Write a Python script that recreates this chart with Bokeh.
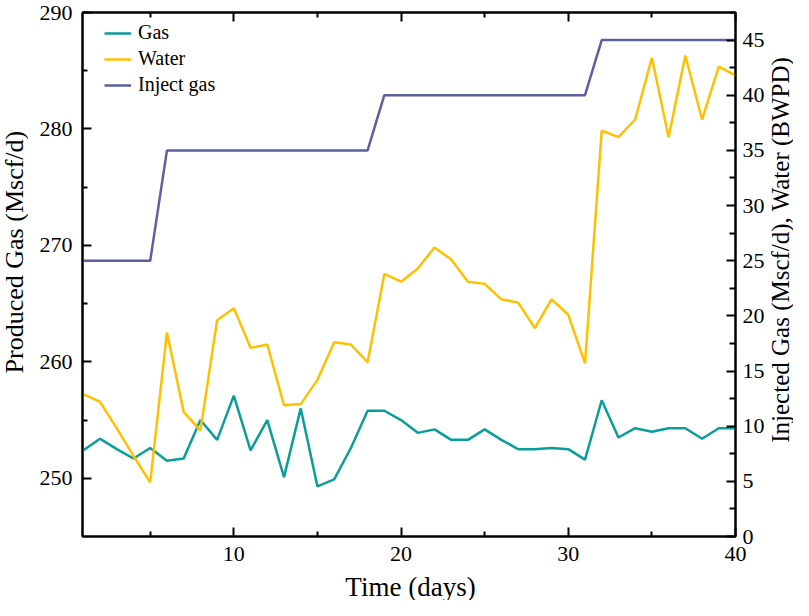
import math
from bokeh.plotting import figure
from bokeh.layouts import row, column
from bokeh.models import Range1d, LinearAxis, FixedTicker, Legend, LegendItem, CustomJSTickFormatter
from bokeh.core.properties import value
from bokeh.embed import file_html
from bokeh.resources import INLINE

days = [1, 2, 3, 4, 5, 6, 7, 8, 9, 10,
        11, 12, 13, 14, 15, 16, 17, 18, 19, 20,
        21, 22, 23, 24, 25, 26, 27, 28, 29, 30,
        31, 32, 33, 34, 35, 36, 37, 38, 39, 40]

gas = [252.4, 253.4, 252.5, 251.7, 252.6, 251.5, 251.7, 255.0, 253.3, 257.1,
       252.4, 255.0, 250.1, 256.0, 249.3, 249.9, 252.6, 255.8, 255.8, 255.0,
       253.9, 254.2, 253.3, 253.3, 254.2, 253.3, 252.5, 252.5, 252.6, 252.5,
       251.6, 256.7, 253.5, 254.3, 254.0, 254.3, 254.3, 253.4, 254.3, 254.3]

water = [12.9, 12.2, 9.8, 7.3, 4.9, 18.5, 11.3, 9.6, 19.6, 20.7,
         17.1, 17.4, 11.9, 12.0, 14.2, 17.6, 17.4, 15.8, 23.8, 23.1,
         24.3, 26.2, 25.1, 23.1, 22.9, 21.5, 21.2, 18.9, 21.5, 20.1,
         15.7, 36.8, 36.2, 37.8, 43.4, 36.2, 43.6, 37.8, 42.6, 41.8]

inject_gas = [25, 25, 25, 25, 25, 35, 35, 35, 35, 35,
              35, 35, 35, 35, 35, 35, 35, 35, 40, 40,
              40, 40, 40, 40, 40, 40, 40, 40, 40, 40,
              40, 45, 45, 45, 45, 45, 45, 45, 45, 45]

x_major = [10, 20, 30, 40]
x_minor = [5, 15, 25, 35]
left_major = [250, 260, 270, 280, 290]
left_minor = [255, 265, 275, 285]
right_major = [0, 5, 10, 15, 20, 25, 30, 35, 40, 45]
right_minor = [2.5, 7.5, 12.5, 17.5, 22.5, 27.5, 32.5, 37.5, 42.5, 47.5]

left_title = "Produced Gas (Mscf/d)"
right_title = "Injected Gas (Mscf/d),  Water (BWPD)"
x_title = "Time (days)"

FONT = "Liberation Serif"

# layout sizes (pixels)
LW, RW = 28, 26            # side strips holding the rotated axis titles
BL, BR, BT, BB = 54, 29, 12, 37
FW, FH = 656, 524           # plot frame
PW = BL + FW + BR
PH = BT + FH + BB
TOTAL_W = LW + PW + RW
BOTTOM_H = 600 - PH

p = figure(width=PW, height=PH, output_backend="svg", toolbar_location=None,
           x_range=Range1d(0.95, 40), y_range=Range1d(245, 290),
           min_border_left=BL, min_border_right=BR, min_border_top=BT, min_border_bottom=BB)
p.extra_y_ranges = {"right": Range1d(0, 47.5)}
p.xgrid.visible = False
p.ygrid.visible = False
p.outline_line_color = "black"
p.outline_line_width = 2


def style(ax, standoff=10):
    ax.axis_line_width = 2
    ax.axis_line_color = "black"
    ax.major_tick_in = 9
    ax.major_tick_out = 0
    ax.minor_tick_in = 5
    ax.minor_tick_out = 0
    ax.major_tick_line_width = 2
    ax.minor_tick_line_width = 2
    ax.major_tick_line_color = "black"
    ax.minor_tick_line_color = "black"
    ax.major_label_text_font = FONT
    ax.major_label_text_font_size = "22px"
    ax.major_label_text_color = "black"
    ax.major_label_standoff = standoff


xax = p.xaxis[0]
xax.ticker = FixedTicker(ticks=x_major, minor_ticks=x_minor)
style(xax, 10)

yax = p.yaxis[0]
yax.ticker = FixedTicker(ticks=left_major, minor_ticks=left_minor)
style(yax, 10)

rax = LinearAxis(y_range_name="right",
                 ticker=FixedTicker(ticks=right_major, minor_ticks=right_minor))
style(rax, 7)
rax.minor_tick_in = 6
p.add_layout(rax, "right")

tax = LinearAxis(ticker=FixedTicker(ticks=x_major, minor_ticks=x_minor),
                 formatter=CustomJSTickFormatter(code="return ''"))
style(tax, 0)
tax.major_label_text_font_size = "0px"
p.add_layout(tax, "above")

r_gas = p.line(days, gas, line_color="#0A9E98", line_width=2.5)
r_water = p.line(days, water, line_color="#FFC000", line_width=2.5, y_range_name="right")
r_inj = p.line(days, inject_gas, line_color="#5D5F9F", line_width=2.5, y_range_name="right")

legend = Legend(items=[LegendItem(label="Gas", renderers=[r_gas]),
                       LegendItem(label="Water", renderers=[r_water]),
                       LegendItem(label="Inject gas", renderers=[r_inj])],
                location=(22, 440))
legend.margin = 0
legend.padding = 0
legend.spacing = 3
legend.glyph_width = 27
legend.glyph_height = 22
legend.label_standoff = 7
legend.label_text_font = FONT
legend.label_text_font_size = "20px"
legend.label_text_color = "black"
legend.border_line_color = None
legend.background_fill_alpha = 0
p.add_layout(legend)


def strip(w, h):
    f = figure(width=w, height=h, output_backend="svg", toolbar_location=None,
               x_range=Range1d(0, w), y_range=Range1d(0, h),
               x_axis_location=None, y_axis_location=None,
               min_border=0, min_border_left=0, min_border_right=0,
               min_border_top=0, min_border_bottom=0)
    f.outline_line_color = None
    f.xgrid.visible = False
    f.ygrid.visible = False
    return f


left_strip = strip(LW, PH)
left_strip.text(x=[LW / 2], y=[PH - 262], text=[left_title], angle=math.pi / 2,
                text_align="center", text_baseline="middle",
                text_font=value(FONT), text_font_size=value("26px"), text_color="black")

right_strip = strip(RW, PH)
right_strip.text(x=[RW / 2], y=[PH - 256], text=[right_title], angle=math.pi / 2,
                 text_align="center", text_baseline="middle",
                 text_font=value(FONT), text_font_size=value("25px"), text_color="black")

bottom_strip = strip(TOTAL_W, BOTTOM_H)
bottom_strip.text(x=[410], y=[BOTTOM_H - 13], text=[x_title],
                  text_align="center", text_baseline="middle",
                  text_font=value(FONT), text_font_size=value("27px"), text_color="black")

layout = column(row(left_strip, p, right_strip, spacing=0), bottom_strip, spacing=0)

open("out.html", "w").write(file_html(layout, INLINE))
